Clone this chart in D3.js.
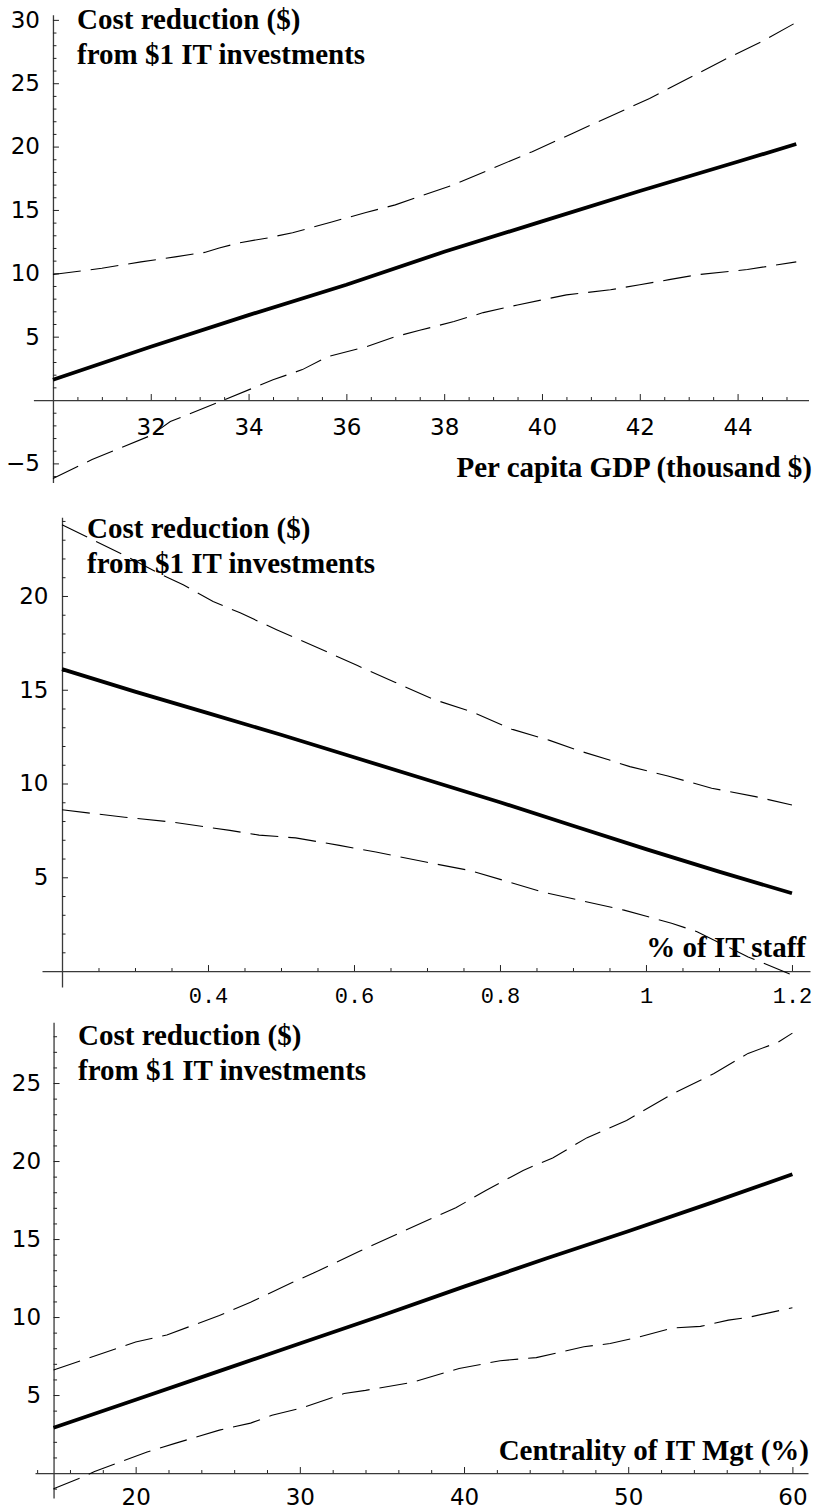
<!DOCTYPE html>
<html>
<head>
<meta charset="utf-8">
<script src="https://cdn.jsdelivr.net/npm/d3@7"></script>
<style>
  body { margin: 0; background: #fff; }
  .domain { stroke: #3a3a3a; stroke-width: 1.3; }
  .tick line { stroke: #222; stroke-width: 1; }
</style>
</head>
<body>
<svg id="chart" width="817" height="1512"></svg>
<script>
// ---- panel 1: per capita GDP (thousand $) ----
var gdpX   = [30, 32, 34, 36, 38, 40, 42, 44, 45.2];
var gdpFit = [1.6, 4.2, 6.7, 9.1, 11.7, 14.1, 16.5, 18.8, 20.2];
var gdpUpX = [30, 31, 31.8, 32.5, 33.1, 33.4, 33.8, 34.4, 34.9, 35.7, 36.4, 37.0, 38.2, 39.0, 39.8, 40.6, 41.4, 42.2, 42.6, 43.7, 44.5, 45.2];
var gdpUp  = [9.9, 10.4, 10.9, 11.3, 11.65, 12.0, 12.4, 12.8, 13.2, 14.05, 14.8, 15.4, 17.0, 18.3, 19.6, 21.0, 22.4, 23.8, 24.6, 26.8, 28.3, 29.8];
var gdpLoX = [30, 30.8, 32, 32.4, 33.5, 34.5, 35.1, 35.6, 36.4, 37.0, 37.5, 38.2, 38.8, 39.5, 40.5, 41.4, 42.0, 42.6, 43.2, 44.2, 45.2];
var gdpLo  = [-6.2, -4.7, -2.8, -1.7, 0, 1.6, 2.4, 3.4, 4.2, 5.0, 5.5, 6.2, 6.9, 7.5, 8.3, 8.7, 9.1, 9.5, 9.9, 10.3, 10.9];
var gdpXTicks = [32, 34, 36, 38, 40, 42, 44];
var gdpYTicks = [-5, 5, 10, 15, 20, 25, 30];

// ---- panel 2: % of IT staff ----
var staffX   = [0.2, 0.3, 0.4, 0.5, 0.6, 0.7, 0.8, 0.9, 1.0, 1.1, 1.2];
var staffFit = [16.1, 14.9, 13.75, 12.6, 11.4, 10.2, 9.0, 7.75, 6.5, 5.3, 4.15];
var staffUpX = [0.2, 0.289, 0.338, 0.366, 0.407, 0.444, 0.494, 0.564, 0.604, 0.656, 0.708, 0.763, 0.816, 0.868, 0.904, 0.95, 0.978, 1.03, 1.09, 1.15, 1.2];
var staffUp  = [23.8, 22.1, 21.1, 20.6, 19.7, 19.1, 18.2, 17.0, 16.3, 15.4, 14.5, 13.8, 12.9, 12.3, 11.8, 11.25, 10.9, 10.4, 9.75, 9.3, 8.85];
var staffLoX = [0.2, 0.286, 0.35, 0.43, 0.47, 0.52, 0.58, 0.63, 0.70, 0.76, 0.86, 0.97, 1.035, 1.07, 1.14, 1.2];
var staffLo  = [8.6, 8.2, 7.95, 7.5, 7.25, 7.1, 6.7, 6.35, 5.8, 5.35, 4.2, 3.25, 2.55, 2.1, 0.75, -0.2];
var staffXTicks = [0.4, 0.6, 0.8, 1, 1.2];
var staffXLabels = ["0.4", "0.6", "0.8", "1", "1.2"];
var staffYTicks = [5, 10, 15, 20];

// ---- panel 3: centrality of IT management (%) ----
var centX   = [15, 20, 25, 30, 35, 40, 45, 50, 55, 60];
var centFit = [2.9, 4.7, 6.5, 8.3, 10.1, 11.95, 13.75, 15.5, 17.3, 19.15];
var centUpX = [15, 20.0, 21.9, 25.1, 27.0, 29.5, 30.8, 33.6, 36.1, 38.4, 39.5, 41.3, 43.6, 45.4, 47.5, 49.9, 52.7, 55.2, 57.3, 59.1, 60];
var centUp  = [6.6, 8.4, 8.85, 10.1, 10.95, 12.2, 12.8, 14.2, 15.4, 16.5, 17.0, 18.1, 19.4, 20.2, 21.5, 22.6, 24.3, 25.6, 26.9, 27.6, 28.2];
var centLoX = [15, 16.8, 17.5, 19.3, 20.7, 22.4, 25.1, 27.0, 28.3, 30.2, 32.7, 34.0, 36.8, 39.7, 42.2, 44.4, 47.3, 48.9, 50.6, 52.7, 54.4, 56.1, 57.4, 60];
var centLo  = [-1.0, -0.25, 0.1, 0.8, 1.35, 1.9, 2.75, 3.2, 3.7, 4.2, 5.1, 5.3, 5.8, 6.7, 7.2, 7.4, 8.1, 8.3, 8.7, 9.3, 9.4, 9.8, 10.0, 10.6];
var centXTicks = [20, 30, 40, 50, 60];
var centYTicks = [5, 10, 15, 20, 25];

var titleLines = ["Cost reduction ($)", "from $1 IT investments"];

var svg = d3.select("#chart");

function minorTicks(lo, hi, step, majors) {
  // every step between lo and hi that is not a major tick (or the origin)
  return d3.range(Math.round(lo / step), Math.round(hi / step) + 1)
    .map(function(k) { return +(k * step).toFixed(4); })
    .filter(function(v) { return majors.indexOf(v) < 0 && v >= lo && v <= hi; });
}

function drawPanel(p) {
  var x = d3.scaleLinear().domain(p.xDomain).range(p.xRange);
  var y = d3.scaleLinear().domain(p.yDomain).range(p.yRange);
  var g = svg.append("g");

  // title text (drawn first, lines go over it)
  var title = g.append("text")
    .attr("font-family", "'Liberation Serif', 'Times New Roman', serif")
    .attr("font-weight", "bold")
    .attr("font-size", "29px");
  titleLines.forEach(function(t, i) {
    title.append("tspan").attr("x", p.titleX).attr("y", p.titleY + i * 34.5).text(t);
  });

  g.append("text")
    .attr("x", p.xLabelX).attr("y", p.xLabelY)
    .attr("text-anchor", "end")
    .attr("font-family", "'Liberation Serif', 'Times New Roman', serif")
    .attr("font-weight", "bold")
    .attr("font-size", "29px")
    .text(p.xLabel);

  // x axis (at y = 0)
  var xg = g.append("g").attr("transform", `translate(0,${y(0)})`);
  xg.call(d3.axisBottom(x).tickValues(p.xTicks).tickSizeInner(-6).tickSizeOuter(0)
      .tickPadding(p.xPad).tickFormat(p.xFormat || function(d) { return d; }));
  xg.selectAll("text")
    .attr("font-family", p.xFont)
    .attr("font-size", p.xFontSize)
    .attr("fill", "#000");
  var xm = g.append("g").attr("transform", `translate(0,${y(0)})`)
    .call(d3.axisBottom(x).tickValues(p.xMinor).tickSize(-3).tickFormat(""));
  xm.select(".domain").remove();

  // y axis (at x = origin)
  var yg = g.append("g").attr("transform", `translate(${x(p.xDomainOrigin)},0)`);
  yg.call(d3.axisLeft(y).tickValues(p.yTicks).tickSizeInner(-6).tickSizeOuter(0)
      .tickPadding(p.yPad).tickFormat(function(d) { return d < 0 ? "\u2212" + (-d) : d; }));
  yg.selectAll("text")
    .attr("font-family", "'DejaVu Sans', sans-serif")
    .attr("font-size", "23px")
    .attr("fill", "#000");
  var ym = g.append("g").attr("transform", `translate(${x(p.xDomainOrigin)},0)`)
    .call(d3.axisLeft(y).tickValues(p.yMinor).tickSize(-3.5).tickFormat(""));
  ym.select(".domain").remove();

  var line = d3.line().x(function(d) { return x(d[0]); }).y(function(d) { return y(d[1]); });

  // confidence bands
  [[p.upX, p.up], [p.loX, p.lo]].forEach(function(s) {
    g.append("path")
      .datum(d3.zip(s[0], s[1]))
      .attr("d", line)
      .attr("fill", "none")
      .attr("stroke", "#000")
      .attr("stroke-width", 1.1)
      .attr("stroke-dasharray", "28,10");
  });

  // fitted effect
  g.append("path")
    .datum(d3.zip(p.fitX, p.fit))
    .attr("d", line)
    .attr("fill", "none")
    .attr("stroke", "#000")
    .attr("stroke-width", 3.8);
}

drawPanel({
  xDomain: [29.6, 45.45], xRange: [33.4, 808.5], xDomainOrigin: 30,
  yDomain: [-6.5, 30.4], yRange: [482.4, 14.8],
  xTicks: gdpXTicks, xMinor: minorTicks(30.5, 45.4, 0.5, gdpXTicks),
  yTicks: gdpYTicks, yMinor: minorTicks(-6, 30, 1, gdpYTicks.concat([0])),
  xPad: 18.5, yPad: 13, xFont: "'DejaVu Sans', sans-serif", xFontSize: "23px",
  fitX: gdpX, fit: gdpFit, upX: gdpUpX, up: gdpUp, loX: gdpLoX, lo: gdpLo,
  titleX: 77, titleY: 29, xLabel: "Per capita GDP (thousand $)", xLabelX: 812, xLabelY: 477
});

drawPanel({
  xDomain: [0.1726, 1.2247], xRange: [42, 810], xDomainOrigin: 0.2,
  yDomain: [-0.85, 24.2], yRange: [987, 517.2],
  xTicks: staffXTicks, xMinor: minorTicks(0.25, 1.2, 0.05, staffXTicks),
  xFormat: function(d, i) { return staffXLabels[i]; },
  yTicks: staffYTicks, yMinor: minorTicks(1, 24, 1, staffYTicks),
  xPad: 16, yPad: 13.5, xFont: "'Liberation Mono', 'Courier New', monospace", xFontSize: "22px",
  fitX: staffX, fit: staffFit, upX: staffUpX, up: staffUp, loX: staffLoX, lo: staffLo,
  titleX: 87, titleY: 538, xLabel: "% of IT staff", xLabelX: 806, xLabelY: 957
});

drawPanel({
  xDomain: [13.87, 60.95], xRange: [35, 808], xDomainOrigin: 15,
  yDomain: [-1.6, 28.9], yRange: [1498, 1022.2],
  xTicks: centXTicks, xMinor: minorTicks(14, 60, 2, centXTicks),
  yTicks: centYTicks, yMinor: minorTicks(-1, 28, 1, centYTicks.concat([0])),
  xPad: 15.5, yPad: 12.5, xFont: "'DejaVu Sans', sans-serif", xFontSize: "23px",
  fitX: centX, fit: centFit, upX: centUpX, up: centUp, loX: centLoX, lo: centLo,
  titleX: 78, titleY: 1045, xLabel: "Centrality of IT Mgt (%)", xLabelX: 809, xLabelY: 1460
});
</script>
</body>
</html>
